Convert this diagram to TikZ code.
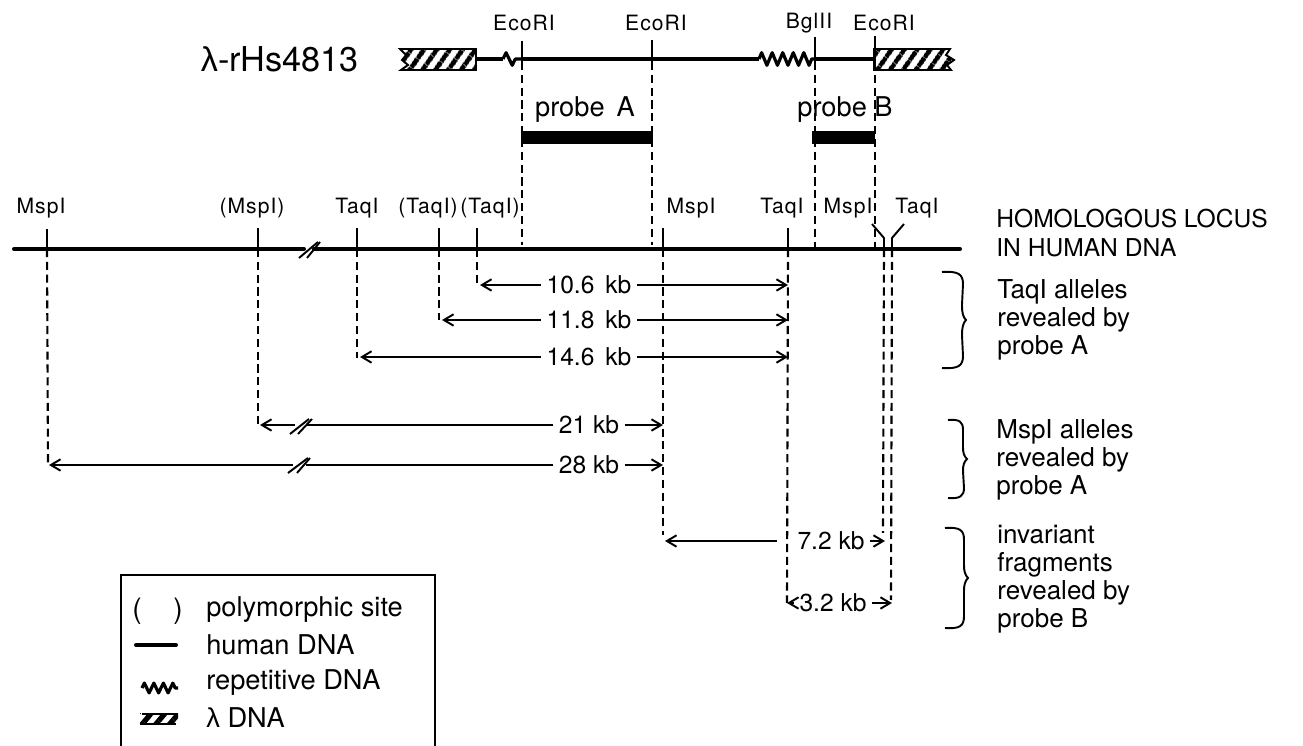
\documentclass[tikz,border=0pt]{standalone}
\usepackage{fontspec}
\setmainfont{TeX Gyre Heros}
\newfontfamily\lamfont{Liberation Sans}
\usetikzlibrary{arrows.meta,decorations.pathmorphing,patterns.meta}

\tikzset{
	humanline/.style={line width=2.3pt},
	cloneline/.style={line width=1.9pt},
	thinline/.style={line width=1.1pt},
	dropline/.style={line width=1.2pt,dash pattern=on 4.6pt off 2.7pt},
	sizeline/.style={line width=1.1pt},
	repeatline/.style={line width=1.8pt,line join=round,decorate,decoration={zigzag,segment length=6pt,amplitude=3.6pt}},
	hatchbox/.style={line width=1.1pt,pattern={Lines[angle=55,distance=6.4pt,line width=2.9pt]}},
	probebar/.style={fill=black,draw=none},
	sitelabel/.style={font=\fontsize{12}{13}\selectfont\addfontfeature{LetterSpace=5},inner sep=0pt},
	sizelabel/.style={font=\fontsize{14}{15}\selectfont,inner sep=3pt},
	sidelabel/.style={font=\fontsize{14.8}{16}\selectfont,anchor=west,align=left,inner sep=0pt},
	legendlabel/.style={font=\fontsize{15.5}{17}\selectfont,anchor=west,inner sep=0pt},
	probelabel/.style={font=\fontsize{15.5}{17}\selectfont,inner sep=0pt},
}

\begin{document}
\begin{tikzpicture}[x=0.02cm,y=-0.02cm,>={Straight Barb[length=5.5pt,width=6.5pt]}]
		\useasboundingbox (0,0) rectangle (1303,746);

		% clone map
		\node[font=\fontsize{19.5}{21}\selectfont,inner sep=0pt] (clone) at (280,59) {{\lamfont λ}-rHs4813};
		\draw[hatchbox] (476,49) -- (400,49) -- (406,55) -- (402,60) -- (408,65) -- (401,70) -- (476,70) -- cycle;
		\draw[hatchbox] (874,49) -- (950,49) -- (946,55) -- (954,60) -- (947,65) -- (951,70) -- (874,70) -- cycle;
		\draw[cloneline] (476,59) -- (503,59);
		\draw[repeatline,decoration={segment length=7pt}] (503,59) -- (521,59);
		\draw[cloneline] (521,59) -- (759,59);
		\draw[repeatline] (759,59) -- (814,59);
		\draw[cloneline] (814,59) -- (874,59);

		\node[sitelabel] (eco1) at (524,23) {EcoRI};
		\node[sitelabel] (eco2) at (656,23) {EcoRI};
		\node[sitelabel] (bgl) at (809,23) {BglII};
		\node[sitelabel] (eco3) at (884,23) {EcoRI};
		\coordinate (e1a) at (522,41);
		\coordinate (e1b) at (522,245);
		\coordinate (e2a) at (652,40);
		\coordinate (e2b) at (652,245);
		\coordinate (b1a) at (815,37);
		\coordinate (b1b) at (815,249);
		\coordinate (e3a) at (875,36);
		\coordinate (e3b) at (875,249);
		\draw[thinline] (e1a) -- (522,62);
		\draw[thinline] (e2a) -- (652,62);
		\draw[thinline] (b1a) -- (815,62);
		\draw[thinline] (e3a) -- (875,62);
		\draw[dropline] (522,62) -- (e1b);
		\draw[dropline] (652,62) -- (e2b);
		\draw[dropline] (815,62) -- (b1b);
		\draw[dropline] (875,62) -- (e3b);

		% probes
		\node[probelabel] (proba) at (585,110) {probe\, A};
		\node[probelabel] (probb) at (845,110) {probe B};
		\fill[probebar] (521,131) rectangle (653,144);
		\fill[probebar] (812,131) rectangle (875,144);

		% genomic line
		\draw[humanline,line cap=round] (14,249) -- (304,249);
		\draw[humanline,line cap=round] (314,249) -- (960,249);
		\draw[thinline] (299,258) -- (318,242);
		\draw[thinline] (307,258) -- (320,242);

		\node[sitelabel] (msp1) at (41,208) {MspI};
		\node[sitelabel] (msp2) at (252,208) {(MspI)};
		\node[sitelabel] (taq1) at (357,208) {TaqI};
		\node[sitelabel] (taq2) at (428,208) {(TaqI)};
		\node[sitelabel] (taq3) at (490,208) {(TaqI)};
		\node[sitelabel] (msp3) at (691,208) {MspI};
		\node[sitelabel] (taq4) at (782,208) {TaqI};
		\node[sitelabel] (msp4) at (848,208) {MspI};
		\node[sitelabel] (taq5) at (917,208) {TaqI};
		\node[font=\fontsize{14}{17}\selectfont,anchor=west,align=left,inner sep=0pt] (locus) at (996,233) {HOMOLOGOUS LOCUS\\IN HUMAN DNA};

		\coordinate (s1) at (47,249);
		\coordinate (s2) at (258,249);
		\coordinate (s3) at (357,249);
		\coordinate (s4) at (439,249);
		\coordinate (s5) at (477,249);
		\coordinate (s6) at (663,249);
		\coordinate (s7) at (788,249);
		\coordinate (s8) at (884,249);
		\coordinate (s9) at (892,249);
		\draw[thinline] (s1) -- (47,229);
		\draw[thinline] (s2) -- (258,228);
		\draw[thinline] (s3) -- (357,228);
		\draw[thinline] (s4) -- (439,228);
		\draw[thinline] (s5) -- (477,228);
		\draw[thinline] (s6) -- (663,228);
		\draw[thinline] (s7) -- (788,228);
		\draw[thinline] (s8) -- (884,238) -- (872,224);
		\draw[thinline] (s9) -- (892,238) -- (904,224);

		\coordinate (d1) at (48,465);
		\coordinate (d2) at (258,425);
		\coordinate (d3) at (357,358);
		\coordinate (d4) at (439,320);
		\coordinate (d5) at (477,285);
		\coordinate (d6) at (663,535);
		\coordinate (d7) at (787,603);
		\coordinate (d8) at (883,533);
		\coordinate (d9) at (891,600);
		\draw[dropline] (s1) -- (d1);
		\draw[dropline] (s2) -- (d2);
		\draw[dropline] (s3) -- (d3);
		\draw[dropline] (s4) -- (d4);
		\draw[dropline] (s5) -- (d5);
		\draw[dropline] (s6) -- (d6);
		\draw[dropline] (s7) -- (d7);
		\draw[dropline] (s8) -- (d8);
		\draw[dropline] (s9) -- (d9);

		% fragment sizes
		\node[sizelabel] (k106) at (589,285) {10.6\, kb};
		\node[sizelabel] (k118) at (589,320) {11.8\, kb};
		\node[sizelabel] (k146) at (589,357) {14.6\, kb};
		\node[sizelabel] (k21) at (589,425) {21 kb};
		\node[sizelabel] (k28) at (589,465) {28 kb};
		\node[sizelabel] (k72) at (831,541) {7.2 kb};
		\node[sizelabel] (k32) at (833,603) {3.2 kb};

		\coordinate (t1) at (788,285);
		\coordinate (t2) at (788,320);
		\coordinate (t3) at (788,357);
		\coordinate (m1) at (663,425);
		\coordinate (m2) at (663,465);
		\coordinate (f1) at (665,541);
		\coordinate (f2) at (885,541);
		\coordinate (f3) at (787,603);
		\coordinate (f4) at (892,603);
		\coordinate (f5) at (777,541);
		\draw[sizeline,->] (k106) -- (t1);
		\draw[sizeline,->] (k106) -- (480,285);
		\draw[sizeline,->] (k118) -- (t2);
		\draw[sizeline,->] (k118) -- (442,320);
		\draw[sizeline,->] (k146) -- (t3);
		\draw[sizeline,->] (k146) -- (360,357);
		\draw[sizeline,->] (k21) -- (m1);
		\draw[sizeline] (k21) -- (306,425);
		\draw[sizeline,->] (295,425) -- (260,425);
		\draw[thinline] (290,434) -- (309,419);
		\draw[thinline] (298,434) -- (312,419);
		\draw[sizeline,->] (k28) -- (m2);
		\draw[sizeline] (k28) -- (306,465);
		\draw[sizeline,->] (293,465) -- (49,465);
		\draw[thinline] (288,473) -- (308,458);
		\draw[thinline] (297,473) -- (310,458);
		\draw[sizeline,->] (k72) -- (f2);
		\draw[sizeline,->] (f5) -- (f1);
		\draw[sizeline,->] (k32) -- (f4);
		\draw[sizeline,->] (k32) -- (f3);

		% braces and notes
		\draw[thinline] (942,272) .. controls (958,271) and (963,274) .. (963,284) -- (962,305) .. controls (962,313) and (963,317) .. (966,320) .. controls (963,323) and (962,328) .. (962,335) -- (963,356) .. controls (963,366) and (958,369) .. (942,368);
		\draw[thinline] (948,420) .. controls (960,419) and (963,422) .. (963,430) -- (963,447) .. controls (963,453) and (964,456) .. (967,459) .. controls (964,462) and (963,465) .. (963,471) -- (964,488) .. controls (964,496) and (960,499) .. (948,498);
		\draw[thinline] (945,528) .. controls (960,527) and (964,530) .. (964,540) -- (964,565) .. controls (964,571) and (965,575) .. (968,578) .. controls (965,581) and (964,585) .. (964,591) -- (964,616) .. controls (964,626) and (960,629) .. (945,628);
		\node[sidelabel] (note1) at (997,320) {TaqI alleles\\revealed by\\probe A};
		\node[sidelabel] (note2) at (996,460) {MspI alleles\\revealed by\\probe A};
		\node[sidelabel] (note3) at (997,579) {invariant\\fragments\\revealed by\\probe B};

		% legend
		\draw[thinline] (121,746) -- (121,575) -- (435,575) -- (435,746);
		\node[font=\fontsize{16}{18}\selectfont,inner sep=0pt] (open) at (137,611) {(};
		\node[font=\fontsize{16}{18}\selectfont,inner sep=0pt] (close) at (178,611) {)};
		\node[legendlabel] (leg1) at (206,610) {polymorphic site};
		\draw[humanline,line cap=round] (136,645) -- (176,645);
		\node[legendlabel] (leg2) at (206,645) {human DNA};
		\draw[repeatline,decoration={segment length=5.4pt,amplitude=2.8pt}] (142,688) -- (178,688);
		\node[legendlabel] (leg3) at (206,683) {repetitive DNA};
		\fill[pattern={Lines[angle=50,distance=6pt,line width=3pt]}] (140,714) rectangle (178,724);
		\draw[line width=1.3pt] (142,714) -- (178,714);
		\draw[line width=1.3pt] (140,724) -- (176,724);
		\node[legendlabel] (leg4) at (206,718) {{\lamfont λ} DNA};

	\end{tikzpicture}
\end{document}
